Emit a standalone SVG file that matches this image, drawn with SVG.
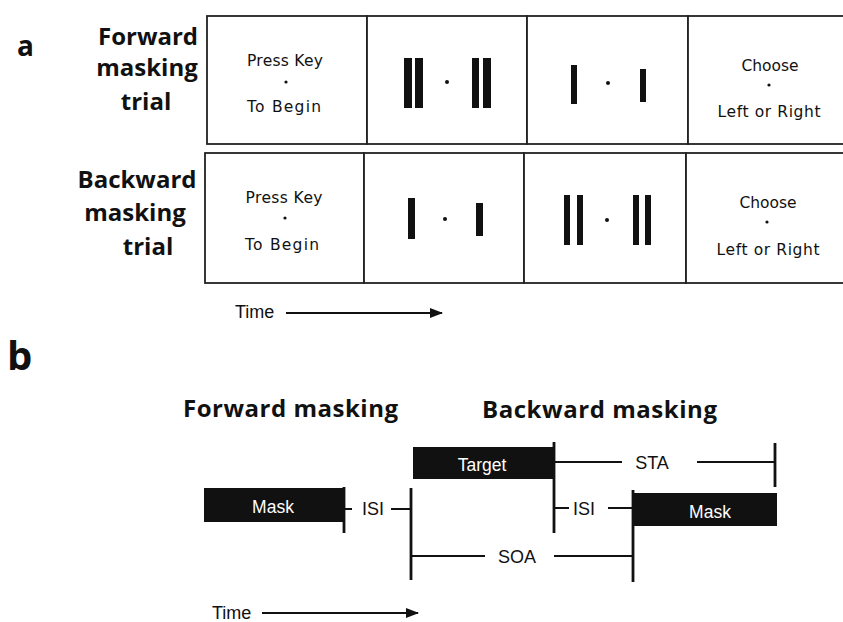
<svg xmlns="http://www.w3.org/2000/svg" width="843" height="622" viewBox="0 0 843 622">
  <style>
    .panel { font-family: "Open Sans", "Liberation Sans", sans-serif; font-weight: bold; fill: #111; }
    .row { font-family: "Open Sans", "Liberation Sans", sans-serif; font-weight: bold; font-size: 24px; fill: #111; text-anchor: middle; }
    .screen { font-family: "DejaVu Sans", "Liberation Sans", sans-serif; font-size: 15.5px; fill: #111; text-anchor: middle; }
    .frame { fill: #fff; stroke: #222; stroke-width: 1.8; }
    .bar { fill: #111; }
    .line { stroke: #111; stroke-width: 2; fill: none; }
    .tick { stroke: #111; stroke-width: 2.8; fill: none; }
    .title { font-family: "Open Sans", "Liberation Sans", sans-serif; font-weight: bold; font-size: 24px; fill: #111; }
    .lab { font-family: "Liberation Sans", Arial, sans-serif; font-size: 18px; fill: #111; text-anchor: middle; }
    .inbar { font-family: "Liberation Sans", Arial, sans-serif; font-size: 17.5px; fill: #fff; text-anchor: middle; }
    .time { font-family: "Liberation Sans", Arial, sans-serif; font-size: 18px; fill: #111; }
  </style>
  <defs>
    <marker id="arrow" markerWidth="13" markerHeight="10" refX="12" refY="5" orient="auto" markerUnits="userSpaceOnUse">
      <path d="M0,0 L13,5 L0,10 Z" fill="#111"/>
    </marker>
  </defs>
  <rect width="843" height="622" fill="#fff"/>

  <!-- Panel a: trial sequences -->
  <text class="panel" x="17" y="56" font-size="28">a</text>

  <g id="row-forward">
    <text class="row" x="148" y="45">Forward</text>
    <text class="row" x="147" y="76">masking</text>
    <text class="row" x="146" y="110">trial</text>
  </g>
  <g id="row-backward">
    <text class="row" x="137" y="188">Backward</text>
    <text class="row" x="135" y="221">masking</text>
    <text class="row" x="148" y="255">trial</text>
  </g>

  <!-- forward trial screens -->
  <g id="fwd-start">
    <rect class="frame" x="207" y="16" width="160" height="128"/>
    <text class="screen" x="285" y="66" textLength="76" lengthAdjust="spacing">Press Key</text>
    <circle cx="286" cy="82" r="1.6" fill="#111"/>
    <text class="screen" x="284" y="112" textLength="74" lengthAdjust="spacing">To Begin</text>
  </g>
  <g id="fwd-mask">
    <rect class="frame" x="367" y="16" width="160" height="128"/>
    <rect class="bar" x="404" y="58" width="8" height="50"/>
    <rect class="bar" x="415" y="58" width="8" height="50"/>
    <circle cx="447" cy="82" r="2" fill="#111"/>
    <rect class="bar" x="472" y="58" width="7" height="50"/>
    <rect class="bar" x="483" y="58" width="8" height="50"/>
  </g>
  <g id="fwd-target">
    <rect class="frame" x="527" y="16" width="161" height="128"/>
    <rect class="bar" x="571" y="65" width="6" height="39"/>
    <circle cx="608" cy="83" r="2" fill="#111"/>
    <rect class="bar" x="640" y="69" width="6" height="33"/>
  </g>
  <g id="fwd-choose">
    <rect class="frame" x="688" y="16" width="170" height="128"/>
    <text class="screen" x="770" y="71" textLength="57" lengthAdjust="spacing">Choose</text>
    <circle cx="769" cy="85" r="1.6" fill="#111"/>
    <text class="screen" x="769" y="117" textLength="103" lengthAdjust="spacing">Left or Right</text>
  </g>

  <!-- backward trial screens -->
  <g id="bwd-start">
    <rect class="frame" x="205" y="153" width="159" height="130"/>
    <text class="screen" x="284" y="203" textLength="77" lengthAdjust="spacing">Press Key</text>
    <circle cx="285" cy="218" r="1.6" fill="#111"/>
    <text class="screen" x="282" y="250" textLength="74" lengthAdjust="spacing">To Begin</text>
  </g>
  <g id="bwd-target">
    <rect class="frame" x="364" y="153" width="160" height="130"/>
    <rect class="bar" x="408" y="198" width="7" height="41"/>
    <circle cx="445" cy="219" r="2" fill="#111"/>
    <rect class="bar" x="476" y="203" width="7" height="33"/>
  </g>
  <g id="bwd-mask">
    <rect class="frame" x="524" y="153" width="162" height="130"/>
    <rect class="bar" x="564" y="195" width="6" height="50"/>
    <rect class="bar" x="577" y="195" width="6" height="50"/>
    <circle cx="607" cy="220" r="2" fill="#111"/>
    <rect class="bar" x="633" y="195" width="6" height="50"/>
    <rect class="bar" x="645" y="195" width="6" height="50"/>
  </g>
  <g id="bwd-choose">
    <rect class="frame" x="686" y="153" width="172" height="130"/>
    <text class="screen" x="768" y="208" textLength="57" lengthAdjust="spacing">Choose</text>
    <circle cx="767" cy="222" r="1.6" fill="#111"/>
    <text class="screen" x="768" y="255" textLength="103" lengthAdjust="spacing">Left or Right</text>
  </g>

  <g id="time-a">
    <text class="time" x="235" y="318">Time</text>
    <line class="line" x1="286" y1="313" x2="442" y2="313" stroke-width="1.5" marker-end="url(#arrow)"/>
  </g>

  <!-- Panel b: timing schematic -->
  <text class="panel" x="7" y="370" font-size="40">b</text>
  <text class="title" x="183" y="417" textLength="215" lengthAdjust="spacing">Forward masking</text>
  <text class="title" x="482" y="418" textLength="235" lengthAdjust="spacing">Backward masking</text>

  <g id="fwd-mask-bar">
    <rect class="bar" x="204" y="488" width="141" height="34"/>
    <text class="inbar" x="273" y="513">Mask</text>
  </g>
  <g id="target-bar">
    <rect class="bar" x="413" y="447" width="141" height="32"/>
    <text class="inbar" x="482" y="471">Target</text>
  </g>
  <g id="bwd-mask-bar">
    <rect class="bar" x="633" y="493" width="144" height="33"/>
    <text class="inbar" x="710" y="518">Mask</text>
  </g>

  <g id="intervals">
    <!-- ticks -->
    <line class="tick" x1="344" y1="487" x2="344" y2="533"/>
    <line class="tick" x1="411" y1="488" x2="411" y2="580"/>
    <line class="tick" x1="554" y1="442" x2="554" y2="533"/>
    <line class="tick" x1="633" y1="490" x2="633" y2="582"/>
    <line class="tick" x1="775" y1="443" x2="775" y2="487"/>
    <!-- ISI (forward) -->
    <line class="line" x1="344" y1="509" x2="352" y2="509"/>
    <text class="lab" x="373" y="515">ISI</text>
    <line class="line" x1="391" y1="509" x2="411" y2="509"/>
    <!-- SOA -->
    <line class="line" x1="411" y1="556" x2="485" y2="556"/>
    <text class="lab" x="517" y="563">SOA</text>
    <line class="line" x1="554" y1="556" x2="633" y2="556"/>
    <!-- ISI (backward) -->
    <line class="line" x1="554" y1="508" x2="569" y2="508"/>
    <text class="lab" x="584" y="515">ISI</text>
    <line class="line" x1="608" y1="508" x2="633" y2="508"/>
    <!-- STA -->
    <line class="line" x1="554" y1="462" x2="622" y2="462"/>
    <text class="lab" x="652" y="469">STA</text>
    <line class="line" x1="697" y1="462" x2="775" y2="462"/>
  </g>

  <g id="time-b">
    <text class="time" x="212" y="619">Time</text>
    <line class="line" x1="262" y1="613" x2="418" y2="613" stroke-width="1.5" marker-end="url(#arrow)"/>
  </g>
</svg>
